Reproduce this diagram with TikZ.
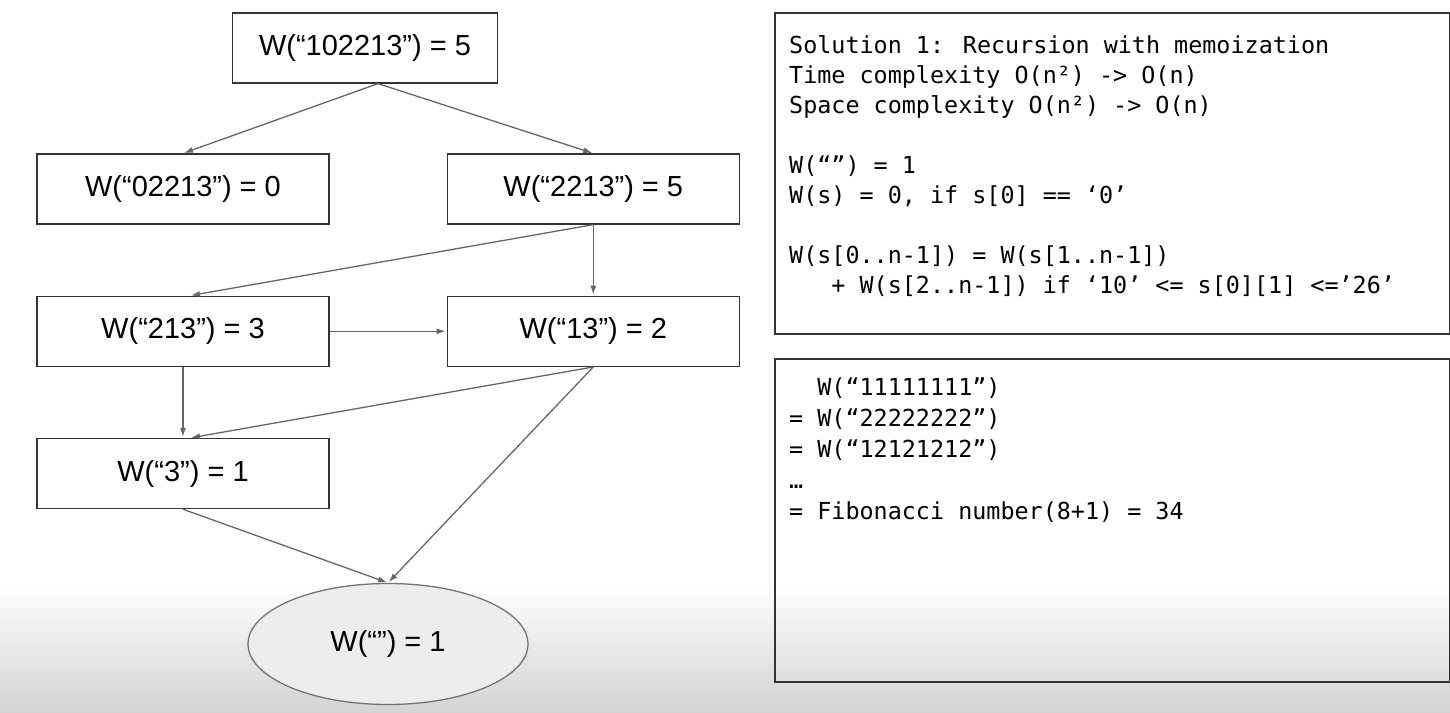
\documentclass[tikz,border=0pt]{standalone}
\usepackage{fontspec}
\setmainfont{Liberation Sans}
\newfontfamily\codefont{DejaVu Sans Mono}
\usetikzlibrary{arrows.meta, positioning, calc, shapes.geometric}

\begin{document}
\begin{tikzpicture}[x=1pt,y=1pt,>={Latex[length=9pt,width=6pt]},node distance=71pt and 117pt]
		\tikzstyle{wbox}=[draw=black!80,line width=1.3pt,minimum width=292pt,minimum height=70pt,inner sep=0pt,font=\fontsize{29}{34}\selectfont]
		\tikzstyle{wedge}=[->,draw=black!60,line width=1.3pt,shorten >=1pt]
		\tikzstyle{codebox}=[draw=black!80,line width=1.8pt,minimum width=675pt,anchor=north west,inner sep=0pt]
		\tikzstyle{codetext}=[align=left,inner sep=0pt,font=\codefont\fontsize{23.4}{30}\selectfont]
		
		\useasboundingbox (0,0) rectangle (1450,712);
		\shade[top color=white,bottom color=black!17] (0,0) rectangle (1450,130);
		
		% recursion tree
		\node[wbox,minimum width=265pt] (w102213) at (365,664) {W(“102213”) = 5};
		\node[wbox] (w02213) at (183,523) {W(“02213”) = 0};
		\node[wbox] (w2213) [right=of w02213] {W(“2213”) = 5};
		\node[wbox] (w213) [below=of w02213] {W(“213”) = 3};
		\node[wbox] (w13) [right=of w213] {W(“13”) = 2};
		\node[wbox] (w3) [below=of w213] {W(“3”) = 1};
		\node[ellipse,draw=black!55,line width=1.3pt,fill=black!7,minimum width=280pt,minimum height=121pt,font=\fontsize{29}{34}\selectfont] (wempty) at (388,68) {W(“”) = 1};
		
		\draw[wedge] ($(w102213.south)+(13,0)$) -- (w02213.north);
		\draw[wedge] ($(w102213.south)+(13,0)$) -- (w2213.north);
		\draw[wedge] (w2213.south) -- ($(w213.north)+(7,0)$);
		\draw[wedge] (w2213.south) -- (w13.north);
		\draw[wedge] (w213.east) -- (w13.west);
		\draw[wedge] (w213.south) -- (w3.north);
		\draw[wedge] (w13.south) -- ($(w3.north)+(7,0)$);
		\draw[wedge] (w13.south) -- (wempty.north);
		\draw[wedge] (w3.south) -- (wempty.north);
		
		% notes
		\node[codebox,minimum height=321pt] (sol) at (774,700) {};
		\node[codetext,below right=23pt and 15pt of sol.north west] (soltext) {Solution 1: Recursion with memoization\\
			Time complexity O(n²) -> O(n)\\
			Space complexity O(n²) -> O(n)\\[30pt]
			W(“”) = 1\\
			W(s) = 0, if s[0] == ‘0’\\[30pt]
			W(s[0..n-1]) = W(s[1..n-1])\\
			\phantom{xxx}+ W(s[2..n-1]) if ‘10’ <= s[0][1] <=’26’};
		
		\node[codebox,minimum height=323pt] (fib) at (774,354) {};
		\node[codetext,below right=20pt and 15pt of fib.north west,font=\codefont\fontsize{23.4}{31}\selectfont] (fibtext) {\phantom{= }W(“11111111”)\\
			= W(“22222222”)\\
			= W(“12121212”)\\
			…\\
			= Fibonacci number(8+1) = 34};
	\end{tikzpicture}
\end{document}
